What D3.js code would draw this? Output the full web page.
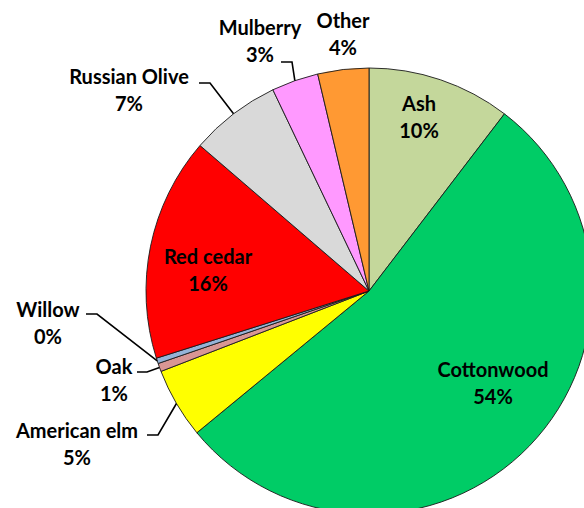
<!DOCTYPE html>
<html>
<head>
<meta charset="utf-8">
<script src="https://cdn.jsdelivr.net/npm/d3@7"></script>
<style>
  html, body { margin: 0; padding: 0; background: #fff; }
  svg { display: block; }
  text { font-family: Lato, "Open Sans", sans-serif; font-weight: bold; font-size: 20px; fill: #000; }
</style>
</head>
<body>
<svg id="chart" width="584" height="508"></svg>
<script>
// ---- data ----
const categories = ["Ash", "Cottonwood", "American elm", "Oak", "Willow", "Red cedar", "Russian Olive", "Mulberry", "Other"];
const values     = [10.4, 53.7, 5.1, 0.6, 0.4, 16.2, 6.6, 3.4, 3.7];
const colors     = ["#C4D79B", "#00CC66", "#FFFF00", "#D99694", "#95B3D7", "#FF0000", "#D9D9D9", "#FF99FF", "#FF9933"];

// ---- layout (label anchor centres and leader elbows) ----
const labelPos = [
  [419, 104], [493, 370], [77, 431], [114, 367], [48, 310],
  [208, 257], [129, 77], [260, 28], [343, 21]
];
const leaders = [
  null, null,
  [[147, 435], [158, 435]],
  [[137, 372], [147, 372]],
  [[86, 314], [97, 314]],
  null,
  [[199, 83], [210, 83]],
  [[281, 62], [292, 62]],
  null
];

const width = 584, height = 508;
const cx = 369, cy = 291, radius = 223;
const lineGap = 27;

const svg = d3.select("#chart");
const g = svg.append("g").attr("transform", `translate(${cx},${cy})`);

const data = categories.map((c, i) => ({ name: c, value: values[i], color: colors[i], i }));
const pie = d3.pie().sort(null).value(d => d.value).startAngle(0).endAngle(2 * Math.PI);
const arcs = pie(data);
const arc = d3.arc().innerRadius(0).outerRadius(radius);

g.selectAll("path.slice")
  .data(arcs)
  .join("path")
  .attr("class", "slice")
  .attr("d", arc)
  .attr("fill", d => d.data.color)
  .attr("stroke", "#1a1a1a")
  .attr("stroke-width", 0.9)
  .attr("stroke-linejoin", "round");

// leader lines
const lineGen = d3.line();
arcs.forEach(a => {
  const L = leaders[a.data.i];
  if (!L) return;
  const mid = (a.startAngle + a.endAngle) / 2;
  const end = [cx + radius * Math.sin(mid), cy - radius * Math.cos(mid)];
  svg.append("path")
    .attr("d", lineGen([L[0], L[1], end]))
    .attr("fill", "none")
    .attr("stroke", "#000")
    .attr("stroke-width", 1.6);
});

// labels
arcs.forEach(a => {
  const [x, y] = labelPos[a.data.i];
  const t = svg.append("text").attr("text-anchor", "middle");
  t.append("tspan").attr("x", x).attr("y", y).attr("dy", "0.36em").text(a.data.name);
  t.append("tspan").attr("x", x).attr("y", y + lineGap).attr("dy", "0.36em").text(Math.round(a.data.value) + "%");
});
</script>
</body>
</html>
